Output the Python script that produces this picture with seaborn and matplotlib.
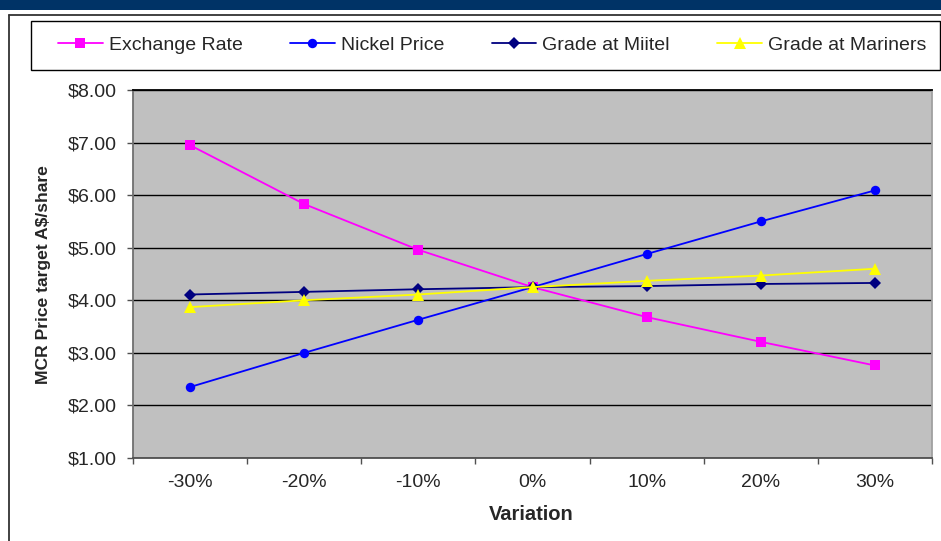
import matplotlib
matplotlib.use("Agg")
import matplotlib.pyplot as plt
import seaborn as sns
import pandas as pd
from matplotlib.lines import Line2D
from matplotlib.patches import Rectangle

# Sensitivity of the price target to each input, varied from -30% to +30%
variation = [-30, -20, -10, 0, 10, 20, 30]
tick_labels = ["-30%", "-20%", "-10%", "0%", "10%", "20%", "30%"]
exchange_rate = [6.95, 5.83, 4.96, 4.25, 3.68, 3.21, 2.76]
nickel_price = [2.35, 3.00, 3.63, 4.25, 4.88, 5.50, 6.09]
grade_miitel = [4.11, 4.16, 4.21, 4.25, 4.27, 4.31, 4.33]
grade_mariners = [3.87, 4.00, 4.11, 4.25, 4.37, 4.47, 4.60]

series_names = ["Exchange Rate", "Nickel Price", "Grade at Miitel", "Grade at Mariners"]
series_values = [exchange_rate, nickel_price, grade_miitel, grade_mariners]

palette = {"Exchange Rate": "#FF00FF", "Nickel Price": "#0000FF",
           "Grade at Miitel": "#000080", "Grade at Mariners": "#FFFF00"}
markers = {"Exchange Rate": "s", "Nickel Price": "o",
           "Grade at Miitel": "D", "Grade at Mariners": "^"}
marker_sizes = {"s": 6.5, "o": 6.8, "D": 6.3, "^": 8.5}

df = pd.DataFrame({
    "Variation": variation * len(series_names),
    "Price": [v for vals in series_values for v in vals],
    "Series": [n for n in series_names for _ in variation],
})

sns.set_style("white")
plt.rcParams["font.family"] = ["Liberation Sans", "DejaVu Sans"]

W, H = 941, 541
fig = plt.figure(figsize=(W / 100, H / 100), dpi=100)
fig.patch.set_facecolor("white")

def fx(px):
    return px / W

def fy(py):
    return 1 - py / H

# header band and frame
fig.patches.append(Rectangle((0, fy(10)), 1, 10 / H, transform=fig.transFigure,
                             facecolor="#003366", edgecolor="none", zorder=0))
fig.lines.append(Line2D([fx(9), fx(9)], [fy(15), 0], transform=fig.transFigure,
                        color="#333333", lw=1.3))
fig.lines.append(Line2D([fx(9), 1], [fy(15), fy(15)], transform=fig.transFigure,
                        color="#333333", lw=1.3))
fig.patches.append(Rectangle((fx(31), fy(70)), fx(940) - fx(31), (70 - 21) / H,
                             transform=fig.transFigure, facecolor="white",
                             edgecolor="black", lw=1.0, zorder=1))

ax = fig.add_axes([fx(133), fy(458), fx(932) - fx(133), (458 - 90) / H])
ax.set_facecolor("#C0C0C0")

sns.lineplot(data=df, x="Variation", y="Price", hue="Series", style="Series",
             hue_order=series_names, style_order=series_names,
             palette=palette, markers=markers, dashes=False,
             linewidth=1.3, markeredgewidth=0, sort=False, ax=ax, legend=False)
for line in ax.get_lines():
    m = line.get_marker()
    if m in marker_sizes:
        line.set_markersize(marker_sizes[m])

ax.set_xlim(-35, 35)
ax.set_ylim(1, 8)
yt = list(range(1, 9))
ax.set_yticks(yt)
ax.set_yticklabels([f"${v:.2f}" for v in yt])
ax.set_xticks(variation)
ax.set_xticklabels(tick_labels)
ax.set_xticks([v - 5 for v in variation] + [35], minor=True)
ax.set_xlabel("")
ax.set_ylabel("")

ax.grid(False)
ax.yaxis.grid(True, color="black", lw=1.0)
ax.set_axisbelow(True)

for side, color in [("left", "#707070"), ("right", "#A0A0A0"),
                    ("top", "black"), ("bottom", "#505050")]:
    ax.spines[side].set_visible(True)
    ax.spines[side].set_color(color)
    ax.spines[side].set_linewidth(1.3)

ax.tick_params(axis="y", which="major", left=True, direction="out", length=4.3,
               width=1.0, color="#505050", pad=7.2, labelsize=14)
ax.tick_params(axis="x", which="major", bottom=True, length=0, pad=11.5, labelsize=14)
ax.tick_params(axis="x", which="minor", bottom=True, direction="out", length=4.3,
               width=1.0, color="#505050")

fig.text(fx(44), fy(275), "MCR Price target A$/share", rotation=90,
         ha="center", va="center", fontsize=12.6, fontweight="bold")
fig.text(fx(531), fy(515), "Variation", ha="center", va="center",
         fontsize=14.5, fontweight="bold")

handles = [Line2D([], [], color=palette[n], marker=markers[n],
                  markersize=marker_sizes[markers[n]], markeredgewidth=0, lw=1.3)
           for n in series_names]
leg = fig.legend(handles, series_names, loc="center left",
                 bbox_to_anchor=(fx(58), fy(45.5)), ncol=4, frameon=False,
                 fontsize=14, handlelength=2.3, handletextpad=0.3,
                 columnspacing=2.45, borderpad=0, borderaxespad=0)
leg.set_zorder(3)

fig.savefig("out.png", dpi=100)
